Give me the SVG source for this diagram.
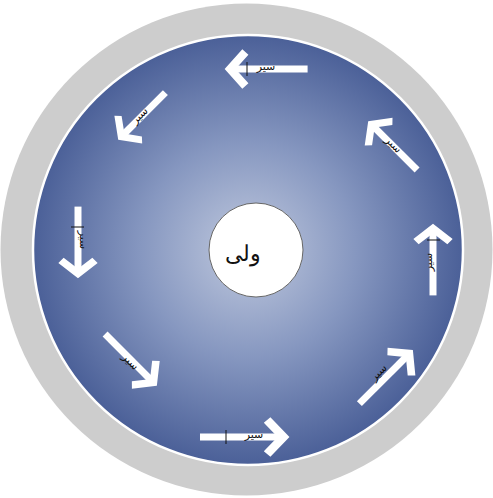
<svg xmlns="http://www.w3.org/2000/svg" width="493" height="498" viewBox="0 0 493 498">
<defs>
<radialGradient id="bg" cx="0.5" cy="0.5" r="0.5">
<stop offset="0" stop-color="#c0c9de"/>
<stop offset="0.5" stop-color="#8697c0"/>
<stop offset="1" stop-color="#4b6098"/>
</radialGradient>
<g id="arrow">
<line x1="-80" y1="0" x2="-6" y2="0" class="shaft"/>
<polyline points="-19,-17 -4,0 -19,17" class="head"/>
</g>
</defs>
<style>
.shaft{stroke:#fff;stroke-width:7;fill:none}
.head{stroke:#fff;stroke-width:8;fill:none;stroke-linejoin:miter;stroke-miterlimit:10}
.lbl{font-family:"DejaVu Sans",sans-serif;font-size:11px;fill:#111;text-anchor:middle}
.tick{stroke:#111;stroke-width:1}
</style>
<g id="outer">
<circle cx="246.5" cy="249.5" r="246" fill="#cdcdcd"/>
<circle cx="248" cy="250" r="215" fill="url(#bg)" stroke="#fff" stroke-width="2.5"/>
</g>
<g id="center">
<circle cx="256" cy="250" r="47" fill="#fff" stroke="#666" stroke-width="1"/>
<text x="243" y="261" font-family="DejaVu Serif, serif" font-size="22" fill="#111" text-anchor="middle">ولی</text>
</g>
<g id="connectors">
<g id="a-top" transform="translate(226,69) rotate(180) scale(1.02,1)"><use href="#arrow"/></g>
<g id="a-upleft" transform="translate(119,139) rotate(135) scale(0.82,1)"><use href="#arrow"/></g>
<g id="a-left" transform="translate(78,277) rotate(90) scale(0.88,1)"><use href="#arrow"/></g>
<g id="a-lowleft" transform="translate(156,385) rotate(45) scale(0.9,1)"><use href="#arrow"/></g>
<g id="a-bottom" transform="translate(288,437) rotate(0) scale(1.1,1)"><use href="#arrow"/></g>
<g id="a-lowright" transform="translate(412,351) rotate(-45) scale(0.93,1)"><use href="#arrow"/></g>
<g id="a-right" transform="translate(433,225) rotate(-90) scale(0.88,1)"><use href="#arrow"/></g>
<g id="a-upright" transform="translate(369,122) rotate(-135) scale(0.85,1)"><use href="#arrow"/></g>
</g>
<g id="labels">
<text class="lbl" x="266" y="70">سیر</text>
<line class="tick" x1="247" y1="62" x2="247" y2="76"/>
<text class="lbl" x="254" y="438">سیر</text>
<line class="tick" x1="226" y1="430" x2="226" y2="444"/>
<text class="lbl" transform="translate(80,240) rotate(90)">سیر</text>
<line class="tick" x1="71" y1="227" x2="84" y2="227"/>
<text class="lbl" transform="translate(432,262) rotate(-90)">سیر</text>
<line class="tick" x1="427" y1="240" x2="440" y2="240"/>
<text class="lbl" transform="translate(142,118) rotate(-45)">سیر</text>
<text class="lbl" transform="translate(391,147) rotate(45)">سیر</text>
<text class="lbl" transform="translate(128,364) rotate(45)">سیر</text>
<text class="lbl" transform="translate(381,375) rotate(-45)">سیر</text>
</g>
</svg>
